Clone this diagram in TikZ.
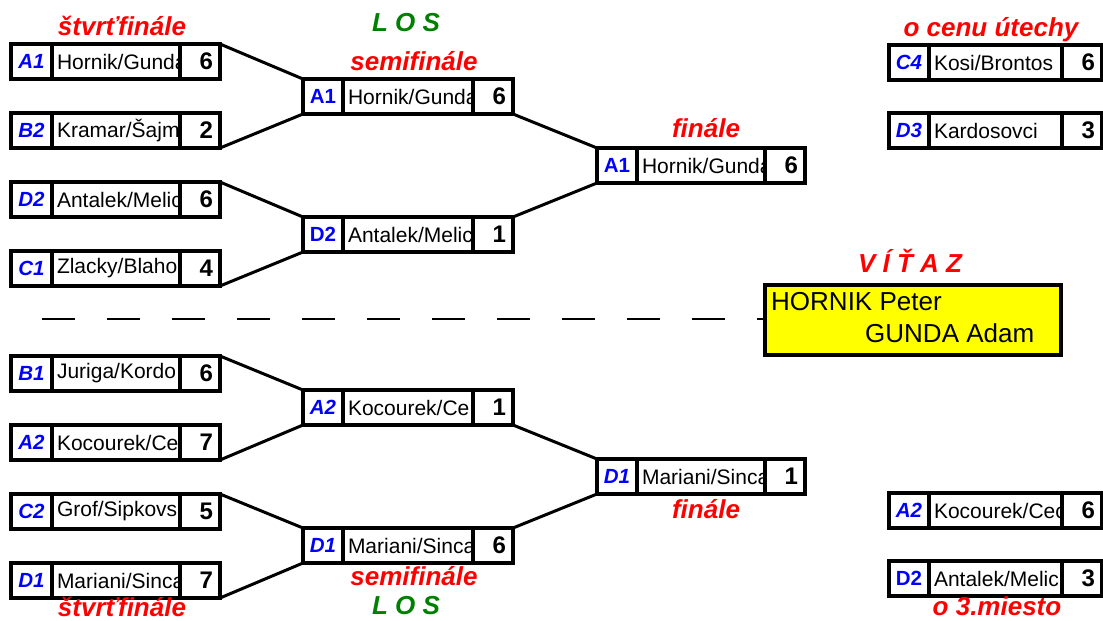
\documentclass[tikz,border=0pt]{standalone}
\usepackage{fontspec}
\setmainfont{Liberation Sans}
\definecolor{codeblue}{RGB}{0,0,255}
\definecolor{lblred}{RGB}{255,0,0}
\definecolor{losgreen}{RGB}{0,128,0}
\definecolor{winyellow}{RGB}{255,255,0}
\tikzset{
  cell/.style={draw=black, line width=3.2pt, minimum height=35pt, inner sep=0pt, outer sep=0pt, anchor=north west, fill=white},
  codeit/.style={cell, text=codeblue, font=\fontsize{20.5}{24}\selectfont\bfseries\itshape},
  codeup/.style={cell, text=codeblue, font=\fontsize{20.5}{24}\selectfont\bfseries},
  namecell/.style={cell, inner xsep=5pt, font=\fontsize{21}{25}\selectfont},
  scorecell/.style={cell, minimum width=40pt, font=\fontsize{24}{28}\selectfont\bfseries},
  conn/.style={line width=3pt, line cap=round},
  lbl/.style={anchor=base, text=lblred, inner sep=1pt, font=\fontsize{26}{30}\selectfont\bfseries\itshape},
  loslbl/.style={anchor=base, text=losgreen, inner sep=1pt, font=\fontsize{26}{30}\selectfont\bfseries\itshape},
  winbox/.style={draw=black, line width=4pt, fill=winyellow, minimum width=296pt, minimum height=70pt, anchor=north west, inner sep=0pt, outer sep=0pt},
  wintext/.style={anchor=base west, font=\fontsize{26}{30}\selectfont, inner sep=0pt},
  dashline/.style={line width=2.2pt, dash pattern=on 33pt off 32pt}
}
% #1 id, #2 x, #3 y, #4 code style, #5 code, #6 name, #7 score, #8 code width, #9 name text width
\newcommand\matchrow[9]{%
  \node[#4, minimum width=#8pt] (#1c) at (#2,#3) {#5};
  \node[namecell] (#1n) at (#1c.north east) {\makebox[#9pt][l]{#6}};
  \node[scorecell] (#1s) at (#1n.north east) {\makebox[26pt][r]{#7}};
}
\begin{document}
\begin{tikzpicture}[x=1pt, y=-1pt]
\useasboundingbox (0,0) rectangle (1103,621);
% quarter-finals (top)
\matchrow{qa}{11}{44}{codeit}{A1}{Hornik/Gunda}{6}{41}{118}
\matchrow{qb}{11}{113}{codeit}{B2}{Kramar/Šajm}{2}{41}{118}
\matchrow{qc}{11}{182}{codeit}{D2}{Antalek/Melic}{6}{41}{118}
\matchrow{qd}{11}{251}{codeit}{C1}{Zlacky/Blaho}{4}{41}{118}
% quarter-finals (bottom)
\matchrow{qe}{11}{356}{codeit}{B1}{Juriga/Kordo}{6}{41}{118}
\matchrow{qf}{11}{425}{codeit}{A2}{Kocourek/Ce}{7}{41}{118}
\matchrow{qg}{11}{494}{codeit}{C2}{Grof/Sipkovs}{5}{41}{118}
\matchrow{qh}{11}{563}{codeit}{D1}{Mariani/Sinca}{7}{41}{118}
% semifinals
\matchrow{sa}{303}{79}{codeup}{A1}{Hornik/Gunda}{6}{40}{120}
\matchrow{sb}{303}{217}{codeup}{D2}{Antalek/Melic}{1}{40}{120}
\matchrow{sc}{303}{390}{codeit}{A2}{Kocourek/Ce}{1}{40}{120}
\matchrow{sd}{303}{528}{codeit}{D1}{Mariani/Sinca}{6}{40}{120}
% finals
\matchrow{fa}{597}{148}{codeup}{A1}{Hornik/Gunda}{6}{40}{118}
\matchrow{fb}{597}{459}{codeit}{D1}{Mariani/Sinca}{1}{40}{118}
% right side
\matchrow{ra}{889}{45}{codeit}{C4}{Kosi/Brontos}{6}{40}{123}
\matchrow{rb}{889}{113}{codeit}{D3}{Kardosovci}{3}{40}{123}
\matchrow{rc}{889}{493}{codeit}{A2}{Kocourek/Cec}{6}{40}{123}
\matchrow{rd}{889}{561}{codeup}{D2}{Antalek/Melic}{3}{40}{123}
% connectors
\draw[conn] (qas.north east) -- (sac.north west);
\draw[conn] (qbs.south east) -- (sac.south west);
\draw[conn] (qcs.north east) -- (sbc.north west);
\draw[conn] (qds.south east) -- (sbc.south west);
\draw[conn] (qes.north east) -- (scc.north west);
\draw[conn] (qfs.south east) -- (scc.south west);
\draw[conn] (qgs.north east) -- (sdc.north west);
\draw[conn] (qhs.south east) -- (sdc.south west);
\draw[conn] (sas.south east) -- (fac.north west);
\draw[conn] (sbs.north east) -- (fac.south west);
\draw[conn] (scs.south east) -- (fbc.north west);
\draw[conn] (sds.north east) -- (fbc.south west);
% winner
\node[winbox] (win) at (765,285) {};
\node[wintext] (w1) at (771,310) {HORNIK Peter};
\node[wintext] (w2) at (865,342) {GUNDA Adam};
\coordinate (dstart) at (42,319);
\draw[dashline] (dstart) -- (dstart -| win.west);
% labels
\node[lbl] (l1) at (122,35) {štvrťfinále};
\node[loslbl] (l2) at (406,31) {L O S};
\node[lbl] (l3) at (414,70) {semifinále};
\node[lbl] (l4) at (706,137) {finále};
\node[lbl] (l5) at (991,36) {o cenu útechy};
\node[lbl] (l6) at (910,272) {V Í Ť A Z};
\node[lbl] (l7) at (706,518) {finále};
\node[lbl] (l8) at (414,585) {semifinále};
\node[loslbl] (l9) at (406,614) {L O S};
\node[lbl] (l10) at (122,616) {štvrťfinále};
\node[lbl] (l11) at (997,615) {o 3.miesto};
\end{tikzpicture}
\end{document}
